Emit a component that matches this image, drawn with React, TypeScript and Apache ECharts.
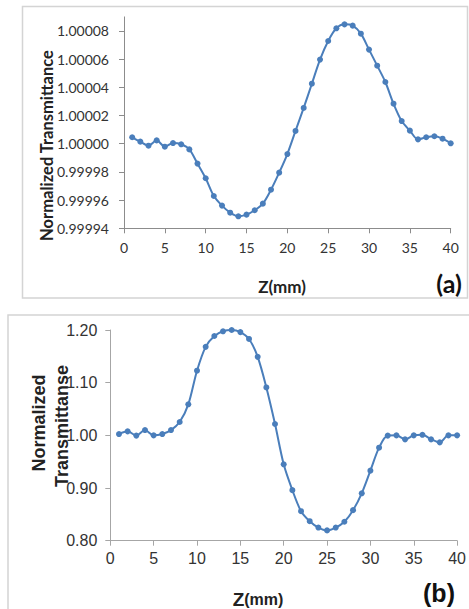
import React, { useEffect, useRef } from "react";
import * as echarts from "echarts";

const zValues = Array.from({ length: 40 }, (_, i) => i + 1);

const transA = [
  1.0000046, 1.0000015, 0.9999986, 1.0000024, 0.9999979, 1.0000005, 0.9999996, 0.999996,
  0.9999859, 0.9999755, 0.9999629, 0.9999561, 0.9999511, 0.9999485, 0.9999497, 0.9999528,
  0.9999575, 0.9999674, 0.9999795, 0.9999927, 1.0000091, 1.0000254, 1.0000426, 1.0000597,
  1.0000729, 1.0000819, 1.0000847, 1.0000838, 1.0000781, 1.0000668, 1.0000554, 1.0000438,
  1.0000284, 1.0000161, 1.0000093, 1.0000031, 1.0000046, 1.0000053, 1.0000036, 1.0000003,
];

const transB = [
  1.0025, 1.0076, 0.9995, 1.01, 1.0, 1.0025, 1.01, 1.0253, 1.0589, 1.1228, 1.168, 1.1886,
  1.1975, 1.2, 1.196, 1.183, 1.149, 1.091, 1.0215, 0.945, 0.896, 0.856, 0.837, 0.825,
  0.8196, 0.825, 0.836, 0.858, 0.89, 0.933, 0.9766, 0.9995, 1.0, 0.9924, 1.0, 1.001,
  0.9924, 0.9867, 1.0, 1.0,
];

const xTicks = { min: 0, max: 40, interval: 5 };
const yTicksA = [0.99994, 0.99996, 0.99998, 1.0, 1.00002, 1.00004, 1.00006, 1.00008];
const yRangeA = { min: 0.99994, max: 1.00009 };
const yTicksB = { min: 0.8, max: 1.2, interval: 0.1 };

const LINE = "#4a7ebb";

export default function App() {
  const ref = useRef<HTMLDivElement>(null);
  useEffect(() => {
    if (!ref.current) return;
    const chart = echarts.init(ref.current, null, { renderer: "svg" });
    const fontA = "Lato, 'Open Sans', sans-serif";
    const fontB = "'Liberation Sans', Arial, sans-serif";
    const axisLineA = { show: true, lineStyle: { color: "#8c8c8c", width: 1 } };
    const axisLineB = { show: true, lineStyle: { color: "#a6a6a6", width: 1 } };
    chart.setOption({
      animation: false,
      backgroundColor: "#ffffff",
      grid: [
        { left: 124, right: 18.3, top: 16.9, bottom: 380.7 },
        { left: 110.3, right: 6, top: 330, bottom: 68.3 },
      ],
      xAxis: [
        {
          type: "value",
          gridIndex: 0,
          min: xTicks.min,
          max: xTicks.max,
          interval: xTicks.interval,
          axisLine: axisLineA,
          axisTick: { show: true, inside: false, length: 5, lineStyle: { color: "#8c8c8c" } },
          splitLine: { show: false },
          axisLabel: { fontFamily: fontA, fontSize: 14, color: "#333", margin: 12 },
        },
        {
          type: "value",
          gridIndex: 1,
          min: xTicks.min,
          max: xTicks.max,
          interval: xTicks.interval,
          axisLine: axisLineB,
          axisTick: { show: true, inside: false, length: 5, lineStyle: { color: "#a6a6a6" } },
          splitLine: { show: false },
          axisLabel: { fontFamily: fontB, fontSize: 16, color: "#333", margin: 10 },
        },
      ],
      yAxis: [
        {
          type: "value",
          gridIndex: 0,
          min: yRangeA.min,
          max: yRangeA.max,
          axisLine: axisLineA,
          axisTick: {
            show: true,
            inside: false,
            length: 5,
            lineStyle: { color: "#8c8c8c" },
            customValues: yTicksA,
          },
          splitLine: { show: false },
          axisLabel: {
            fontFamily: fontA,
            fontSize: 14,
            color: "#333",
            margin: 15,
            customValues: yTicksA,
            formatter: (v: number) => v.toFixed(5),
          },
        },
        {
          type: "value",
          gridIndex: 1,
          min: yTicksB.min,
          max: yTicksB.max,
          interval: yTicksB.interval,
          axisLine: axisLineB,
          axisTick: { show: true, inside: false, length: 5, lineStyle: { color: "#a6a6a6" } },
          splitLine: { show: false },
          axisLabel: {
            fontFamily: fontB,
            fontSize: 16,
            color: "#333",
            margin: 13,
            formatter: (v: number) => v.toFixed(2),
          },
        },
      ],
      series: [
        {
          type: "line",
          xAxisIndex: 0,
          yAxisIndex: 0,
          data: zValues.map((z, i) => [z, transA[i]]),
          smooth: 0.3,
          symbol: "circle",
          symbolSize: 6,
          clip: false,
          lineStyle: { color: LINE, width: 2 },
          itemStyle: { color: LINE },
        },
        {
          type: "line",
          xAxisIndex: 1,
          yAxisIndex: 1,
          data: zValues.map((z, i) => [z, transB[i]]),
          smooth: 0.3,
          symbol: "circle",
          symbolSize: 6,
          clip: false,
          lineStyle: { color: LINE, width: 2 },
          itemStyle: { color: LINE },
        },
      ],
      graphic: [
        {
          type: "rect",
          shape: { x: 22.5, y: 6.5, width: 445, height: 291.5 },
          style: { fill: "none", stroke: "#d4d4d4", lineWidth: 1.5 },
          silent: true,
        },
        {
          type: "rect",
          shape: { x: 8, y: 315, width: 470, height: 310 },
          style: { fill: "none", stroke: "#d4d4d4", lineWidth: 1.5 },
          silent: true,
        },
        {
          type: "text",
          x: 47,
          y: 145.5,
          rotation: Math.PI / 2,
          style: {
            text: "Normalized Transmittance",
            font: "bold 16.5px " + fontA,
            fill: "#222",
            textAlign: "center",
            textVerticalAlign: "middle",
          },
        },
        {
          type: "text",
          x: 282,
          y: 286,
          style: {
            text: "Z(mm)",
            font: "bold 17px " + fontA,
            fill: "#222",
            textAlign: "center",
            textVerticalAlign: "middle",
          },
        },
        {
          type: "text",
          x: 449,
          y: 283,
          style: {
            text: "(a)",
            font: "bold 25px " + fontA,
            fill: "#111",
            textAlign: "center",
            textVerticalAlign: "middle",
          },
        },
        {
          type: "text",
          x: 39,
          y: 423,
          rotation: Math.PI / 2,
          style: {
            text: "Normalized",
            font: "bold 18px " + fontB,
            fill: "#222",
            textAlign: "center",
            textVerticalAlign: "middle",
          },
        },
        {
          type: "text",
          x: 62,
          y: 426,
          rotation: Math.PI / 2,
          style: {
            text: "Transmittanse",
            font: "bold 18px " + fontB,
            fill: "#222",
            textAlign: "center",
            textVerticalAlign: "middle",
          },
        },
        {
          type: "text",
          x: 258,
          y: 599,
          style: {
            text: "{z|Z}{m|(mm)}",
            textAlign: "center",
            textVerticalAlign: "middle",
            rich: {
              z: { font: "bold 19px " + fontB, fill: "#222" },
              m: { font: "bold 16px " + fontB, fill: "#222" },
            },
          },
        },
        {
          type: "text",
          x: 439,
          y: 593,
          style: {
            text: "(b)",
            font: "bold 25px " + fontB,
            fill: "#111",
            textAlign: "center",
            textVerticalAlign: "middle",
          },
        },
      ],
    });
    return () => chart.dispose();
  }, []);
  return (
    <div
      ref={ref}
      style={{ position: "absolute", left: 0, top: 0, width: 469, height: 609 }}
    />
  );
}
